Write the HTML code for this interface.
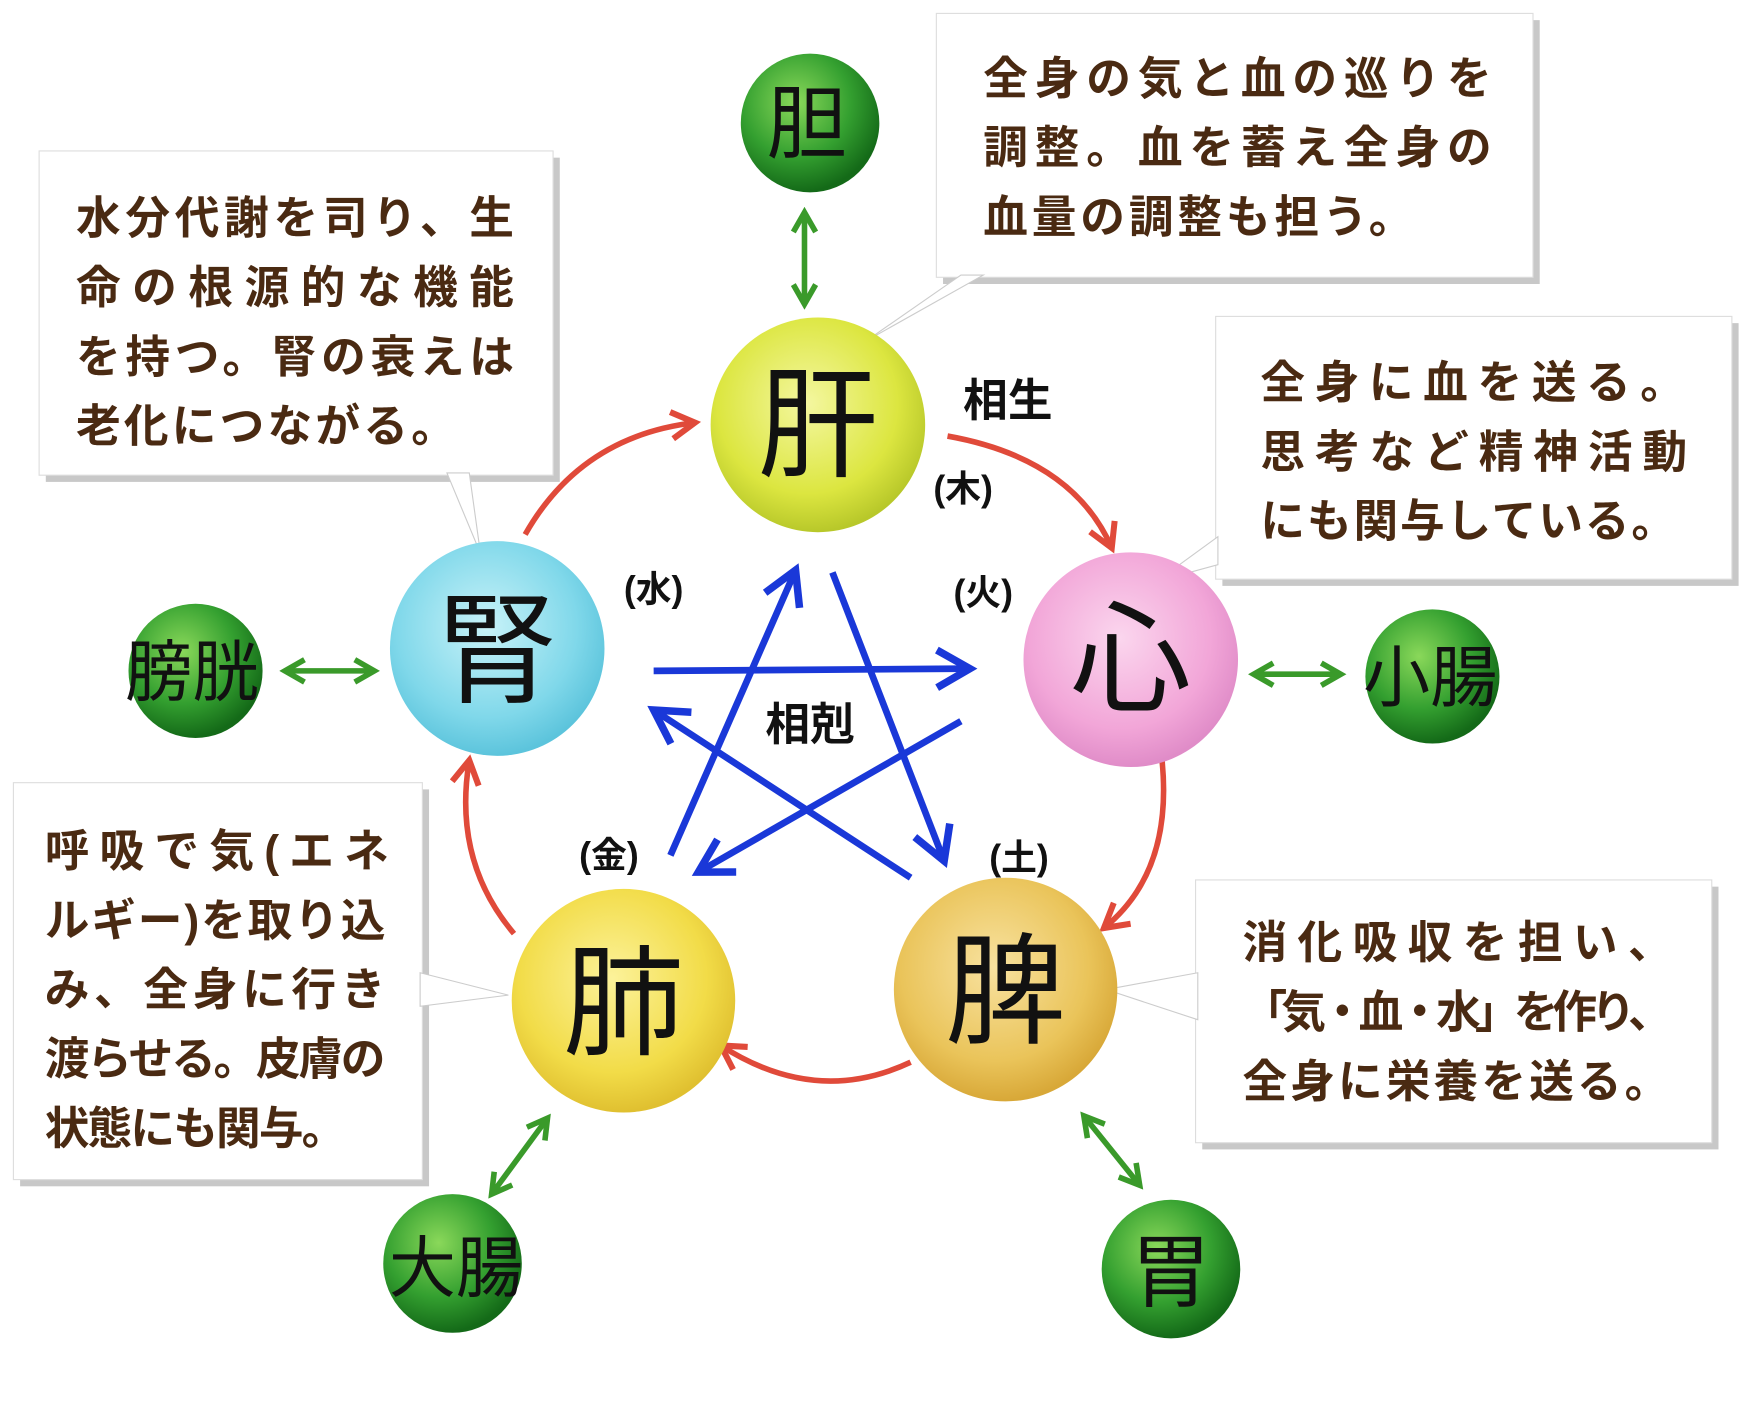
<!DOCTYPE html>
<html><head><meta charset="utf-8">
<style>
html,body{margin:0;padding:0;background:#fff;}
svg{display:block;}
text{font-family:"Liberation Sans","Noto Sans CJK JP",sans-serif;}
.bt{fill:#4a2a12;font-weight:bold;}
</style></head>
<body>
<svg width="1752" height="1420" viewBox="0 0 1568 1270" preserveAspectRatio="none" xmlns="http://www.w3.org/2000/svg">
<defs>
<radialGradient id="gKan" cx="45%" cy="40%" r="60%"><stop offset="0" stop-color="#f4f7a0"/><stop offset="0.7" stop-color="#dce640"/><stop offset="1" stop-color="#b8c82a"/></radialGradient>
<radialGradient id="gShin" cx="45%" cy="40%" r="60%"><stop offset="0" stop-color="#fbd6ee"/><stop offset="0.7" stop-color="#f2a6d8"/><stop offset="1" stop-color="#e08cc8"/></radialGradient>
<radialGradient id="gHi" cx="45%" cy="40%" r="60%"><stop offset="0" stop-color="#f8e2a0"/><stop offset="0.7" stop-color="#eac45a"/><stop offset="1" stop-color="#d8a838"/></radialGradient>
<radialGradient id="gHai" cx="45%" cy="40%" r="60%"><stop offset="0" stop-color="#fcf29a"/><stop offset="0.7" stop-color="#f2dc48"/><stop offset="1" stop-color="#e0c030"/></radialGradient>
<radialGradient id="gJin" cx="45%" cy="40%" r="60%"><stop offset="0" stop-color="#c8f2f8"/><stop offset="0.7" stop-color="#80d8ea"/><stop offset="1" stop-color="#5cc4dc"/></radialGradient>
<radialGradient id="gG" cx="40%" cy="35%" r="65%"><stop offset="0" stop-color="#8ad85a"/><stop offset="0.6" stop-color="#34a030"/><stop offset="1" stop-color="#146a18"/></radialGradient>
<marker id="ar" viewBox="0 0 10 10" refX="8" refY="5" markerWidth="6" markerHeight="6" orient="auto"><path d="M1,1 L8,5 L1,9" fill="none" stroke="#e04a3a" stroke-width="1.8"/></marker>
<marker id="ab" viewBox="0 0 10 10" refX="8" refY="5" markerWidth="7" markerHeight="7" orient="auto"><path d="M1,1 L8,5 L1,9" fill="none" stroke="#1a38d8" stroke-width="1.6"/></marker>
<marker id="ag" viewBox="0 0 10 10" refX="8" refY="5" markerWidth="5" markerHeight="5" orient="auto-start-reverse"><path d="M1,1 L8,5 L1,9" fill="none" stroke="#3a9a2a" stroke-width="2"/></marker>
</defs>

<g>
<rect x="844" y="18" width="534" height="236" fill="#c8c8c8"/>
<rect x="838" y="12" width="534" height="236" fill="#fff" stroke="#ddd"/>
<polygon points="860,246 775,305 880,246" fill="#fff" stroke="#ccc"/>
<rect x="1094" y="289" width="462" height="235" fill="#c8c8c8"/>
<rect x="1088" y="283" width="462" height="235" fill="#fff" stroke="#ddd"/>
<polygon points="1090,480 1035,520 1090,505" fill="#fff" stroke="#ccc"/>
<rect x="41" y="141" width="460" height="290" fill="#c8c8c8"/>
<rect x="35" y="135" width="460" height="290" fill="#fff" stroke="#ddd"/>
<polygon points="400,423 430,495 420,423" fill="#fff" stroke="#ccc"/>
<rect x="18" y="706" width="366" height="355" fill="#c8c8c8"/>
<rect x="12" y="700" width="366" height="355" fill="#fff" stroke="#ddd"/>
<polygon points="376,870 455,890 376,900" fill="#fff" stroke="#ccc"/>
<rect x="1076" y="793" width="462" height="235" fill="#c8c8c8"/>
<rect x="1070" y="787" width="462" height="235" fill="#fff" stroke="#ddd"/>
<polygon points="1072,870 990,885 1072,912" fill="#fff" stroke="#ccc"/>
</g>

<g class="bt" font-size="40">
<text x="880" y="84" textLength="455" lengthAdjust="spacing">全身の気と血の巡りを</text>
<text x="880" y="146" textLength="455" lengthAdjust="spacing">調整。血を蓄え全身の</text>
<text x="880" y="208" textLength="385" lengthAdjust="spacing">血量の調整も担う。</text>
<text x="1128" y="356" textLength="380" lengthAdjust="spacing">全身に血を送る。</text>
<text x="1128" y="418" textLength="382" lengthAdjust="spacing">思考など精神活動</text>
<text x="1128" y="480" textLength="372" lengthAdjust="spacing">にも関与している。</text>
<text x="68" y="209" textLength="392" lengthAdjust="spacing">水分代謝を司り、生</text>
<text x="68" y="271" textLength="392" lengthAdjust="spacing">命の根源的な機能</text>
<text x="68" y="333" textLength="392" lengthAdjust="spacing">を持つ。腎の衰えは</text>
<text x="68" y="395" textLength="340" lengthAdjust="spacing">老化につながる。</text>
<text x="40" y="775" textLength="308" lengthAdjust="spacing">呼吸で気(エネ</text>
<text x="40" y="837" textLength="305" lengthAdjust="spacing">ルギー)を取り込</text>
<text x="40" y="899" textLength="305" lengthAdjust="spacing">み、全身に行き</text>
<text x="40" y="961" textLength="305" lengthAdjust="spacing">渡らせる。皮膚の</text>
<text x="40" y="1023" textLength="270" lengthAdjust="spacing">状態にも関与。</text>
<text x="1112" y="857" textLength="385" lengthAdjust="spacing">消化吸収を担い、</text>
<text x="1112" y="919" textLength="385" lengthAdjust="spacing">「気・血・水」を作り、</text>
<text x="1112" y="981" textLength="382" lengthAdjust="spacing">全身に栄養を送る。</text>
</g>

<g fill="none" stroke="#e04a3a" stroke-width="5" marker-end="url(#ar)">
<path d="M470,478 Q520,390 622,378"/>
<path d="M848,390 Q960,410 995,490"/>
<path d="M1040,680 Q1050,780 988,830"/>
<path d="M815,950 Q730,990 645,935"/>
<path d="M460,835 Q405,770 420,680"/>
</g>

<g stroke="#1a38d8" stroke-width="6" fill="none" marker-end="url(#ab)">
<line x1="600" y1="765" x2="712" y2="510"/>
<line x1="745" y1="512" x2="845" y2="770"/>
<line x1="585" y1="600" x2="868" y2="598"/>
<line x1="860" y1="645" x2="625" y2="780"/>
<line x1="815" y1="785" x2="585" y2="635"/>
</g>

<g stroke="#3a9a2a" stroke-width="5" fill="none" marker-start="url(#ag)" marker-end="url(#ag)">
<line x1="720" y1="190" x2="720" y2="272"/>
<line x1="255" y1="600" x2="335" y2="600"/>
<line x1="1122" y1="603" x2="1200" y2="603"/>
<line x1="490" y1="1000" x2="440" y2="1068"/>
<line x1="970" y1="998" x2="1020" y2="1060"/>
</g>

<circle cx="732" cy="380" r="96" fill="url(#gKan)"/>
<circle cx="1012" cy="590" r="96" fill="url(#gShin)"/>
<circle cx="900" cy="885" r="100" fill="url(#gHi)"/>
<circle cx="558" cy="895" r="100" fill="url(#gHai)"/>
<circle cx="445" cy="580" r="96" fill="url(#gJin)"/>

<circle cx="725" cy="110" r="62" fill="url(#gG)"/>
<circle cx="175" cy="600" r="60" fill="url(#gG)"/>
<circle cx="1282" cy="605" r="60" fill="url(#gG)"/>
<circle cx="405" cy="1130" r="62" fill="url(#gG)"/>
<circle cx="1048" cy="1135" r="62" fill="url(#gG)"/>

<g fill="#111" text-anchor="middle" font-size="108">
<text x="732" y="418">肝</text>
<text x="1012" y="628">心</text>
<text x="900" y="925">脾</text>
<text x="558" y="935">肺</text>
<text x="445" y="620">腎</text>
</g>
<g fill="#111" text-anchor="middle" font-size="72">
<text x="722" y="136">胆</text>
<text x="1048" y="1163">胃</text>
</g>
<g fill="#111" text-anchor="middle" font-size="60">
<text x="172" y="622">膀胱</text>
<text x="1280" y="627">小腸</text>
<text x="408" y="1155">大腸</text>
</g>

<g fill="#111" font-weight="bold" font-size="40" text-anchor="middle">
<text x="902" y="372">相生</text>
<text x="725" y="662">相剋</text>
</g>
<g fill="#111" font-weight="bold" font-size="32" text-anchor="middle">
<text x="862" y="448">(木)</text>
<text x="880" y="541">(火)</text>
<text x="585" y="538">(水)</text>
<text x="545" y="776">(金)</text>
<text x="912" y="778">(土)</text>
</g>
</svg>
</body></html>
